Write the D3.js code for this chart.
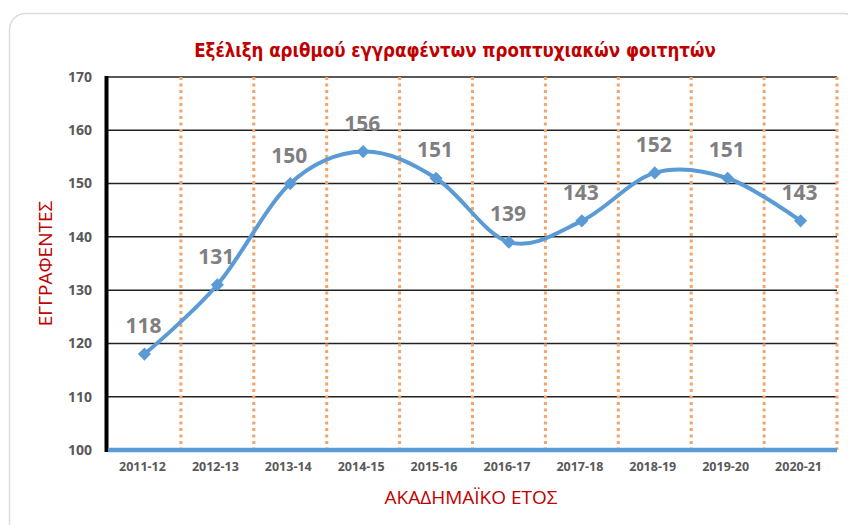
<!DOCTYPE html>
<html>
<head>
<meta charset="utf-8">
<script src="https://cdn.jsdelivr.net/npm/d3@7"></script>
<style>
  body { margin: 0; background: #fff; }
  svg { display: block; }
</style>
</head>
<body>
<script>
const width = 848;
const height = 525;

const years = ["2011-12", "2012-13", "2013-14", "2014-15", "2015-16",
               "2016-17", "2017-18", "2018-19", "2019-20", "2020-21"];
const students = [118, 131, 150, 156, 151, 139, 143, 152, 151, 143];
const yTicks = [100, 110, 120, 130, 140, 150, 160, 170];

const title = "Εξέλιξη αριθμού εγγραφέντων προπτυχιακών φοιτητών";
const xTitle = "ΑΚΑΔΗΜΑΪΚΟ ΕΤΟΣ";
const yTitle = "ΕΓΓΡΑΦΕΝΤΕΣ";

const margin = {top: 77, right: 11, bottom: 75, left: 108};
const red = "#c00000";
const blue = "#5b9bd5";
const grey = "#595959";

const svg = d3.select("body").append("svg")
  .attr("width", width)
  .attr("height", height);

// card frame
svg.append("rect")
  .attr("x", 9.5).attr("y", 13.5)
  .attr("width", 850).attr("height", 540)
  .attr("rx", 16)
  .attr("fill", "none")
  .attr("stroke", "#dcdcdc")
  .attr("stroke-width", 1.5);

const x = d3.scaleBand()
  .domain(years)
  .range([margin.left, width - margin.right]);

const y = d3.scaleLinear()
  .domain([100, 170])
  .range([height - margin.bottom, margin.top]);

// horizontal gridlines
svg.append("g")
  .attr("stroke", "#222")
  .attr("stroke-width", 1.5)
  .selectAll("line")
  .data(yTicks.slice(1))
  .join("line")
  .attr("x1", margin.left)
  .attr("x2", width - margin.right)
  .attr("y1", d => y(d))
  .attr("y2", d => y(d));

// dotted category separators
svg.append("g")
  .attr("stroke", "#f4a46a")
  .attr("stroke-width", 3)
  .attr("stroke-dasharray", "3,3.5")
  .selectAll("line")
  .data(years)
  .join("line")
  .attr("x1", d => x(d) + x.bandwidth())
  .attr("x2", d => x(d) + x.bandwidth())
  .attr("y1", y(170))
  .attr("y2", y(100));

// left axis line
svg.append("line")
  .attr("x1", margin.left - 1.5).attr("x2", margin.left - 1.5)
  .attr("y1", y(170) - 1).attr("y2", y(100) + 2)
  .attr("stroke", "#000")
  .attr("stroke-width", 4);

// bottom axis line
svg.append("line")
  .attr("x1", margin.left).attr("x2", width - margin.right)
  .attr("y1", y(100)).attr("y2", y(100))
  .attr("stroke", blue)
  .attr("stroke-width", 4.5);

// y tick labels
svg.append("g")
  .selectAll("text")
  .data(yTicks)
  .join("text")
  .attr("x", 92)
  .attr("y", d => y(d))
  .attr("dy", "0.35em")
  .attr("text-anchor", "end")
  .attr("font-family", "'Open Sans', sans-serif")
  .attr("font-weight", "bold")
  .attr("font-size", 14)
  .attr("fill", grey)
  .text(d => d);

// x tick labels
svg.append("g")
  .selectAll("text")
  .data(years)
  .join("text")
  .attr("x", d => x(d) + x.bandwidth() / 2 - 2)
  .attr("y", 471)
  .attr("text-anchor", "middle")
  .attr("font-family", "'Open Sans', sans-serif")
  .attr("font-weight", "bold")
  .attr("font-size", 12.5)
  .attr("fill", grey)
  .text(d => d);

// series
const pts = years.map((d, i) => [x(d) + x.bandwidth() / 2, y(students[i])]);

svg.append("path")
  .datum(pts)
  .attr("fill", "none")
  .attr("stroke", blue)
  .attr("stroke-width", 4)
  .attr("d", d3.line().curve(d3.curveCardinal.tension(0)));

svg.append("g")
  .selectAll("path")
  .data(pts)
  .join("path")
  .attr("transform", d => `translate(${d[0]},${d[1]})`)
  .attr("d", d3.symbol(d3.symbolDiamond2, 110))
  .attr("fill", blue);

// data labels
const right = width - margin.right;
svg.append("g")
  .selectAll("text")
  .data(pts)
  .join("text")
  .attr("x", d => Math.min(d[0] - 1, right - 37))
  .attr("y", d => d[1] - 21)
  .attr("text-anchor", "middle")
  .attr("font-family", "'Open Sans', sans-serif")
  .attr("font-weight", "bold")
  .attr("font-size", 21)
  .attr("fill", "#7f7f7f")
  .text((d, i) => students[i]);

// titles
svg.append("text")
  .attr("x", 455)
  .attr("y", 57)
  .attr("text-anchor", "middle")
  .attr("font-family", "'DejaVu Sans Condensed', 'DejaVu Sans', sans-serif")
  .attr("font-weight", "bold")
  .attr("font-size", 18.5)
  .attr("fill", red)
  .text(title);

svg.append("text")
  .attr("x", 471)
  .attr("y", 504)
  .attr("text-anchor", "middle")
  .attr("font-family", "'Open Sans', sans-serif")
  .attr("font-size", 19)
  .attr("fill", red)
  .text(xTitle);

svg.append("text")
  .attr("transform", `translate(52,${y(135)}) rotate(-90)`)
  .attr("text-anchor", "middle")
  .attr("font-family", "'Open Sans', sans-serif")
  .attr("font-size", 19)
  .attr("fill", red)
  .text(yTitle);
</script>
</body>
</html>
